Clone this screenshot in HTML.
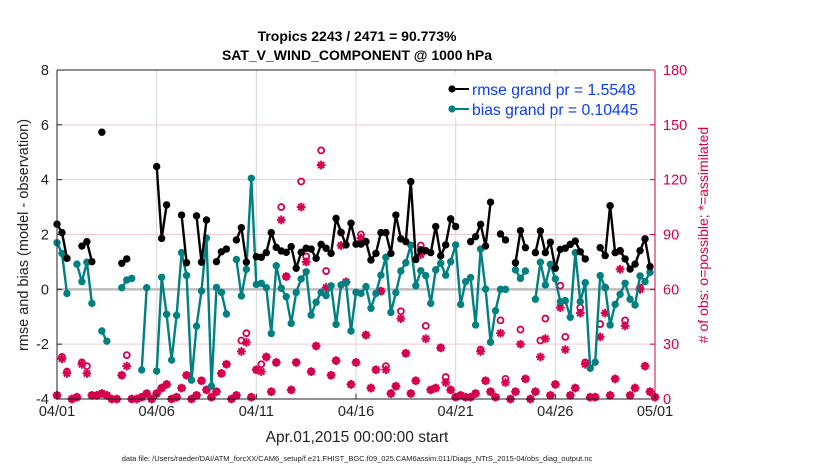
<!DOCTYPE html>
<html><head><meta charset="utf-8">
<style>
body{margin:0;background:#fff;}
svg{display:block;font-family:"Liberation Sans",sans-serif;}
</style></head>
<body>
<svg id="chart" width="830" height="470" viewBox="0 0 830 470">
  <rect x="0" y="0" width="830" height="470" fill="#fff"/>
  <text x="357" y="41" text-anchor="middle" font-size="14" font-weight="bold">Tropics 2243 / 2471 = 90.773%</text>
  <text x="357" y="60" text-anchor="middle" font-size="14" font-weight="bold">SAT_V_WIND_COMPONENT @ 1000 hPa</text>
  <g id="grid"></g>
  <g id="marks"></g>
  <g id="axes"></g>
  <text transform="translate(28,235) rotate(-90)" text-anchor="middle" font-size="14.5" fill="#222">rmse and bias (model - observation)</text>
  <text transform="translate(708,235) rotate(-90)" text-anchor="middle" font-size="14" fill="#d6004f"># of obs: o=possible; *=assimilated</text>
  <text x="357" y="442" text-anchor="middle" font-size="15.5" fill="#222">Apr.01,2015 00:00:00 start</text>
  <text x="357" y="461" text-anchor="middle" font-size="7.5" fill="#222">data file: /Users/raeder/DAI/ATM_forcXX/CAM6_setup/f.e21.FHIST_BGC.f09_025.CAM6assim.011/Diags_NTrS_2015-04/obs_diag_output.nc</text>
  <g>
    <rect x="430" y="73" width="222" height="44" fill="#fff"/>
    <g>
      <line x1="452" y1="89" x2="469" y2="89" stroke="#000" stroke-width="2"/>
      <circle cx="452" cy="89" r="3.6" fill="#000"/>
      <text x="472" y="95" font-size="15.7" fill="#0a3cff">rmse grand pr = 1.5548</text>
    </g>
    <g>
      <line x1="452" y1="109" x2="469" y2="109" stroke="#008080" stroke-width="2"/>
      <circle cx="452" cy="109" r="3.6" fill="#008080"/>
      <text x="472" y="115" font-size="15.7" fill="#0a3cff">bias grand pr = 0.10445</text>
    </g>
  </g>
</svg>
<script>
const rmse = [2.38,2.07,1.13,null,null,1.58,1.74,1.01,null,5.73,null,null,null,0.95,1.11,null,null,null,null,null,
4.48,1.86,3.08,null,null,2.71,0.97,null,2.68,0.99,2.53,null,1.01,1.37,1.47,null,1.8,2.25,0.99,null,
1.19,1.17,1.34,2.07,1.53,1.40,1.35,1.56,0.77,1.35,1.5,1.47,1.13,1.64,1.5,1.31,2.59,2.08,1.62,2.41,
1.65,1.65,1.74,1.07,1.31,2.07,2.07,1.31,2.71,1.84,1.74,3.93,1.09,1.44,1.41,1.34,2.29,1.22,1.62,2.57,
2.29,null,null,1.74,1.92,2.37,1.58,3.18,null,2.02,1.80,null,0.97,2.14,1.52,null,1.34,2.13,1.34,1.72,
0.77,1.46,1.5,1.64,1.76,1.37,1.11,null,null,1.52,1.23,3.05,1.34,1.41,1.11,0.74,0.92,1.41,1.84,0.83,null];
const bias = [1.7,1.31,-0.15,null,0.92,0.28,0.99,-0.51,null,-1.52,-1.89,null,null,0.06,0.34,0.40,null,-2.94,0.06,null,
-2.98,0.44,-0.91,-2.58,-0.95,1.34,0.51,-3.31,-1.34,-0.06,1.87,-3.53,0.07,-0.11,-0.90,null,1.09,-0.24,0.73,4.05,
0.18,0.22,0.06,-1.61,0.86,0.04,-0.27,-1.24,-0.11,0.38,0.64,-0.94,-0.47,-0.11,-0.23,0.13,-1.28,0.16,0.24,-1.52,
-0.11,-0.15,0.1,-0.69,-0.15,0.52,1.17,-0.84,-0.12,0.67,0.97,1.61,0.13,0.68,0.5,-0.51,0.71,0.95,0.52,1.01,
1.62,-0.55,0.28,0.43,-1.30,1.47,0.01,-1.93,-0.78,0,0,null,0.71,0.40,0.67,null,-0.36,0.99,0.16,0.91,
0.38,-0.45,-0.41,-1.02,1.34,-0.45,0.24,-2.88,-2.66,0.5,0.06,-1.30,-0.55,-0.18,0.22,-0.36,-0.57,0.49,0.28,0.62,null];
const assimilated = [2,22,14,0,1,19,14,2,2,3,2,0,0,13,18,0,0,1,3,0,
3,6,8,0,1,6,13,0,2,10,5,1,4,14,19,0,2,26,31,1,
16,15,23,4,20,98,67,5,20,105,75,15,29,128,61,13,21,84,64,8,
20,88,35,6,16,59,16,3,7,44,25,3,10,79,33,5,6,28,9,5,
1,2,1,1,3,26,10,4,1,36,9,0,4,30,11,0,4,23,33,2,
8,50,27,2,6,47,19,1,1,34,47,2,11,71,40,2,6,60,18,4,1];
const possible = [2,23,15,0,1,20,18,2,2,3,2,0,0,13,24,0,0,1,3,0,
3,6,8,0,1,6,13,0,2,10,5,1,4,14,19,0,2,32,36,1,
16,19,23,4,20,105,67,5,20,119,78,15,29,136,70,13,21,91,64,8,
20,90,35,6,16,59,18,3,7,48,25,3,10,84,40,5,6,28,12,5,
1,2,1,1,3,27,10,4,1,43,11,0,4,38,11,0,4,32,44,2,
8,62,34,2,6,50,20,1,1,41,61,2,11,81,43,2,6,61,18,4,1];
const xTickLabels = ["04/01","04/06","04/11","04/16","04/21","04/26","05/01"];
const yTicks = [-4,-2,0,2,4,6,8];
const rightTicks = [0,30,60,90,120,150,180];

const NS="http://www.w3.org/2000/svg";
const L=57,R=655,T=70,B=399;
const xS=i=>L+(R-L)*i/120;
const yS=v=>B-(v+4)/12*(B-T);
const yR=n=>B-n/180*(B-T);
function mk(tag,attrs,parent){const e=document.createElementNS(NS,tag);for(const k in attrs)e.setAttribute(k,attrs[k]);parent.appendChild(e);return e;}
const grid=document.getElementById('grid'),marks=document.getElementById('marks'),axes=document.getElementById('axes');

rightTicks.forEach(n=>{ if(n===0||n===180||n===60) return;
  const l=mk('line',{x1:L,x2:R,y1:yR(n),y2:yR(n),stroke:'#f3c6d6','stroke-width':1},grid);
  
  
});
xTickLabels.forEach((t,k)=>{ const x=xS(k*20);
  if(k>0&&k<6){const l=mk('line',{x1:x,x2:x,y1:T,y2:B,stroke:'#d8d8d8','stroke-width':1},grid);
    
    }
});
const z=mk('line',{x1:L,x2:R,y1:yS(0),y2:yS(0),stroke:'#bdbdbd','stroke-width':2.5},grid);



const pink='#d6004f';
possible.forEach((n,i)=>{const c=mk('circle',{cx:xS(i),cy:yR(n),r:3,fill:'none',stroke:pink,'stroke-width':1.8},marks);
  
  });
assimilated.forEach((n,i)=>{const x=xS(i),y=yR(n);const g=mk('g',{stroke:pink,'stroke-width':2},marks);
  
  
  const s=4.4;
  mk('line',{x1:x-s,x2:x+s,y1:y,y2:y},g);mk('line',{x1:x,x2:x,y1:y-s,y2:y+s},g);
  mk('line',{x1:x-s*.7,x2:x+s*.7,y1:y-s*.7,y2:y+s*.7},g);mk('line',{x1:x-s*.7,x2:x+s*.7,y1:y+s*.7,y2:y-s*.7},g);});

function series(arr,color,name){
  let d='';let pen=false;
  arr.forEach((v,i)=>{if(v===null){pen=false;return;}d+=(pen?'L':'M')+xS(i).toFixed(1)+' '+yS(v).toFixed(1)+' ';pen=true;});
  const p=mk('path',{d:d,fill:'none',stroke:color,'stroke-width':2.4,'stroke-linejoin':'round'},marks);
  
  
  arr.forEach((v,i)=>{if(v===null)return;const c=mk('circle',{cx:xS(i),cy:yS(v),r:3.7,fill:color},marks);
    
    });
}
series(bias,'#008080','bias');
series(rmse,'#000000','rmse');

const lf=mk('line',{x1:L,x2:L,y1:T,y2:B,stroke:'#222','stroke-width':1},axes);


const tf=mk('line',{x1:L,x2:R,y1:T,y2:T,stroke:'#222','stroke-width':1},axes);


const bf=mk('line',{x1:L,x2:R,y1:B,y2:B,stroke:'#222','stroke-width':1},axes);


const rf=mk('line',{x1:R,x2:R,y1:T,y2:B,stroke:pink,'stroke-width':1},axes);


yTicks.forEach(v=>{const y=yS(v);mk('line',{x1:L,x2:L+5,y1:y,y2:y,stroke:'#222'},axes);
  const t=mk('text',{x:L-8,y:y+5,'text-anchor':'end','font-size':14.5,fill:'#222'},axes);t.textContent=v;
  
  });
rightTicks.forEach(n=>{const y=yR(n);mk('line',{x1:R-5,x2:R,y1:y,y2:y,stroke:pink},axes);
  const t=mk('text',{x:R+8,y:y+5,'font-size':14.5,fill:pink},axes);t.textContent=n;
  
  });
xTickLabels.forEach((s,k)=>{const x=xS(k*20);mk('line',{x1:x,x2:x,y1:B-5,y2:B,stroke:'#222'},axes);
  const t=mk('text',{x:x,y:B+17,'text-anchor':'middle','font-size':14.5,fill:'#222'},axes);t.textContent=s;
  
  });
</script>
</body></html>
